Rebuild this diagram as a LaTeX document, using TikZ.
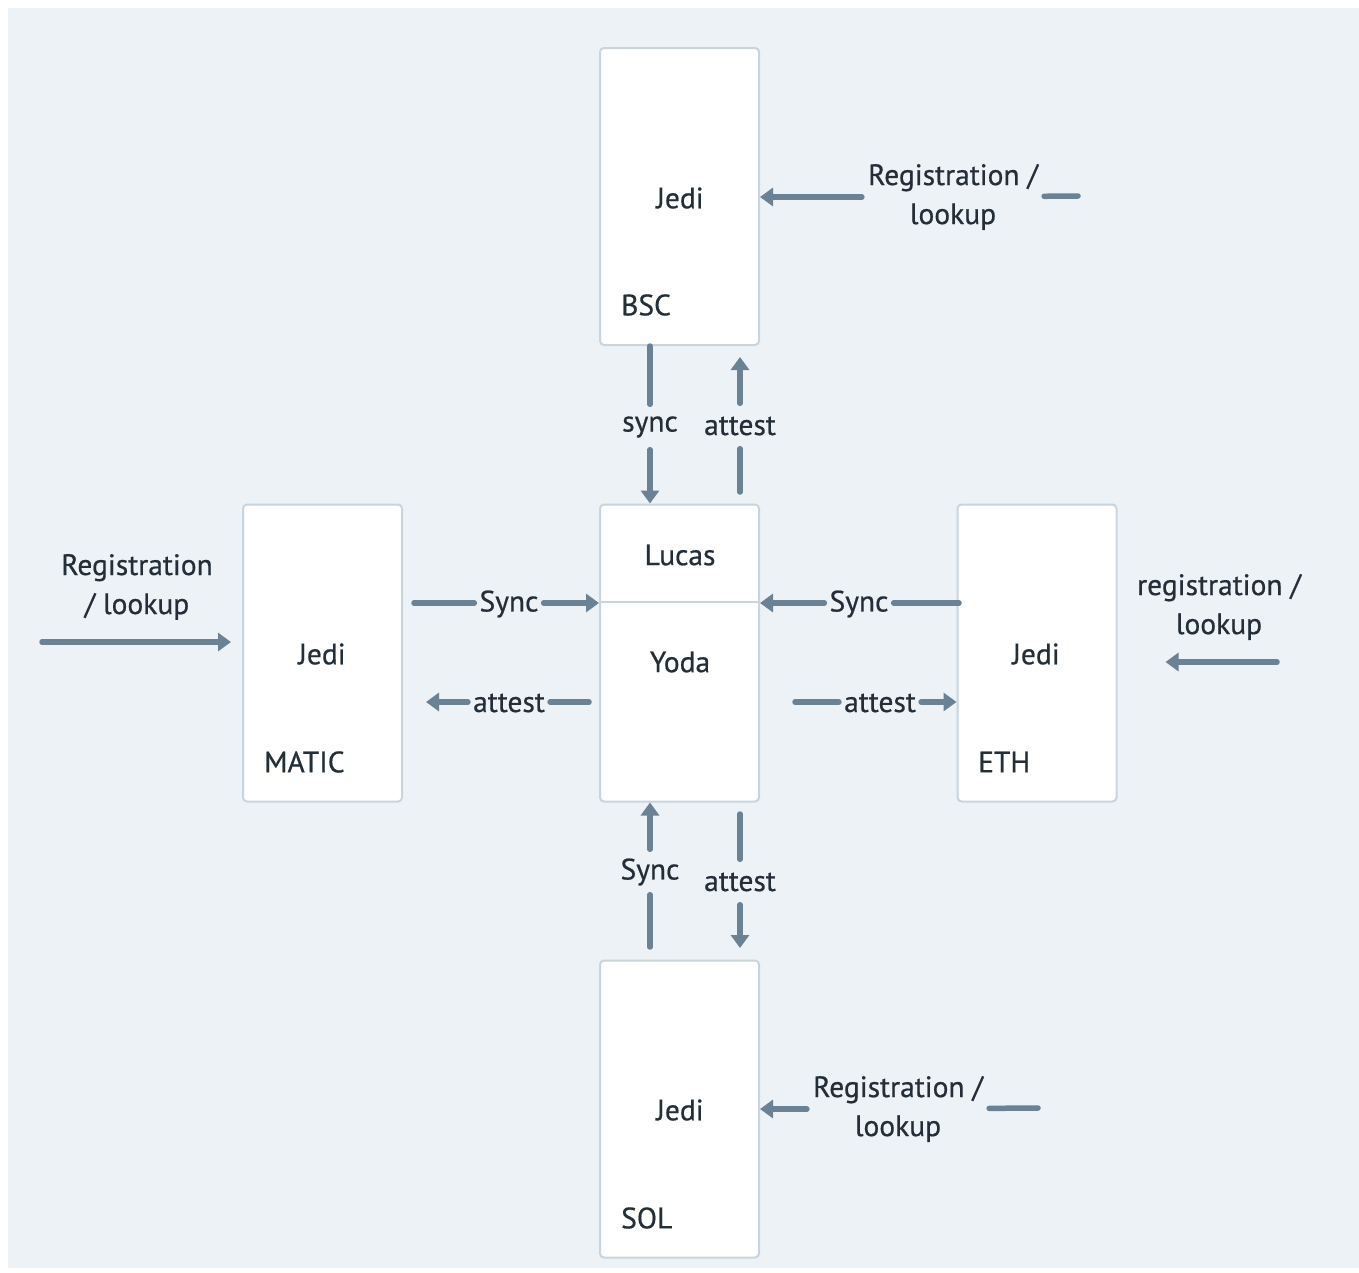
\documentclass[tikz,border=0pt]{standalone}
\usepackage{fontspec}
\setmainfont{PT Sans}[FakeBold=0.6]
\usetikzlibrary{arrows.meta}
\definecolor{bgc}{HTML}{EDF2F7}
\definecolor{edgec}{HTML}{C8D5DF}
\definecolor{arrc}{HTML}{6A8293}
\definecolor{txtc}{HTML}{232E38}
\begin{document}
\begin{tikzpicture}[x=1pt,y=-1pt,
  font=\fontsize{29.5}{39}\selectfont,
  box/.style={draw=edgec, line width=2pt, fill=white, rounded corners=4pt,
    minimum width=159pt, minimum height=297pt, inner sep=0pt},
  conn/.style={draw=arrc, line width=5.5pt, line cap=round},
  arr/.style={conn, -{Triangle[length=13pt,width=18pt]}},
  lbl/.style={text=txtc, inner xsep=5pt, inner ysep=0pt, minimum height=45pt},
  reg/.style={text=txtc, align=center, inner xsep=6pt, inner ysep=0pt},
  txt/.style={text=txtc, inner sep=0pt}
]
% background
\fill[white] (0,0) rectangle (1359,1272);
\fill[bgc] (8,8) rectangle (1359,1268);

% boxes
\node[box] (bsc) at (679.5,196.5) {};
\node[box] (matic) at (322.5,653) {};
\node[box] (core) at (679.5,653) {};
\node[box] (eth) at (1037,653) {};
\node[box] (sol) at (679.5,1109) {};
\draw[edgec, line width=2pt] ([yshift=-98pt]core.north west) -- ([yshift=-98pt]core.north east);

% box texts
\node[txt] (bscj) at (680,198) {Jedi};
\node[txt, anchor=west] (bscn) at (621,305) {BSC};
\node[txt] (maticj) at (322,654) {Jedi};
\node[txt, anchor=west] (maticn) at (264,762) {MATIC};
\node[txt] (lucas) at (680,555) {Lucas};
\node[txt] (yoda) at (680,662) {Yoda};
\node[txt] (ethj) at (1036,654) {Jedi};
\node[txt, anchor=west] (ethn) at (978,762) {ETH};
\node[txt] (solj) at (680,1110) {Jedi};
\node[txt, anchor=west] (soln) at (621,1218) {SOL};

% BSC registration
\coordinate (bregs) at (1078,196);
\node[reg] (bregl) at (953,197) {Registration /\\lookup};
\draw[conn] (bregs) -- (bregl);
\draw[arr] (bregl) -- (bregl -| bsc.east);

% SOL registration
\coordinate (sregs) at (1038,1108);
\node[reg] (sregl) at (898,1109) {Registration /\\lookup};
\draw[conn] (sregs) -- (sregl);
\draw[arr] (sregl) -- (sregl -| sol.east);

% MATIC registration
\node[reg] (mregl) at (137,587) {Registration\\/ lookup};
\coordinate (mregs) at (42,642);
\draw[arr, shorten >=11pt] (mregs) -- (mregs -| matic.west);

% ETH registration
\node[reg] (eregl) at (1219,607) {registration /\\lookup};
\coordinate (eregs) at (1277,662);
\draw[arr, shorten >=48pt] (eregs) -- (eregs -| eth.east);

% top: sync / attest
\node[lbl] (s1) at (650,427) {sync};
\draw[conn] (s1 |- bsc.south) -- (s1);
\draw[arr] (s1) -- (s1 |- core.north);
\node[lbl] (a1) at (740,426) {attest};
\coordinate (a1s) at (740,492);
\coordinate (a1e) at (740,357);
\draw[conn] (a1s) -- (a1);
\draw[arr] (a1) -- (a1e);

% left: Sync / attest
\coordinate (s2s) at (414,603);
\node[lbl] (s2) at (509,604) {Sync};
\draw[conn] (s2s) -- (s2s -| s2.west);
\draw[arr] (s2s -| s2.east) -- (s2s -| core.west);
\coordinate (a2s) at (589,702);
\coordinate (a2e) at (426,702);
\node[lbl] (a2) at (509,703) {attest};
\draw[conn] (a2s) -- (a2s -| a2.east);
\draw[arr] (a2s -| a2.west) -- (a2e);

% right: Sync / attest
\node[lbl] (s3) at (859,604) {Sync};
\coordinate (s3s) at (959,603);
\draw[conn] (s3s) -- (s3s -| s3.east);
\draw[arr] (s3s -| s3.west) -- (s3s -| core.east);
\coordinate (a3s) at (795,702);
\node[lbl] (a3) at (880,703) {attest};
\draw[conn] (a3s) -- (a3s -| a3.west);
\draw[arr] (a3s -| a3.east) -- (a3s -| eth.west);

% bottom: Sync / attest
\coordinate (s4s) at (650,947);
\node[lbl] (s4) at (650,872) {Sync};
\draw[conn] (s4s) -- (s4);
\draw[arr] (s4) -- (s4 |- core.south);
\coordinate (a4s) at (740,814);
\coordinate (a4e) at (740,948);
\node[lbl] (a4) at (740,882) {attest};
\draw[conn] (a4s) -- (a4);
\draw[arr] (a4) -- (a4e);
\end{tikzpicture}
\end{document}
